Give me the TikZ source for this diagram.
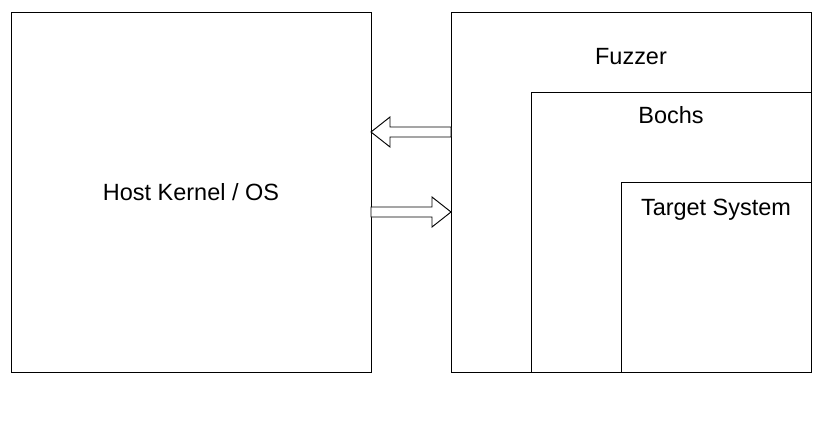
\documentclass[tikz,border=0pt]{standalone}
\usepackage{fontspec}
\setmainfont{Liberation Sans}
\usetikzlibrary{calc,positioning}

\tikzset{
	box/.style={draw, line width=0.7pt, inner sep=0pt, outer sep=0pt, minimum width=#1, minimum height=#1},
	lbl/.style={anchor=base, inner sep=0pt, font=\fontsize{17.6pt}{20pt}\selectfont},
	hollow/.style={draw, line width=0.7pt, fill=white, line join=miter}
}

\begin{document}
\begin{tikzpicture}[x=0.75pt, y=-0.75pt]
		%%%%% START %%%%%
		\useasboundingbox (0, 0) rectangle (822, 428);
		
		\node[box=270pt, anchor=north west] (host) at (11, 12) {};
		\node[box=270pt, right=60pt of host] (fuzzer) {};
		\node[box=210pt, anchor=north east] (bochs) at ($(fuzzer.north east)+(0, 80)$) {};
		\node[box=142.5pt, anchor=north east] (target) at ($(bochs.north east)+(0, 90)$) {};
		
		\node[lbl] (hostlbl) at ($(host.center)+(0, 8)$) {Host Kernel / OS};
		\node[lbl] (fuzzerlbl) at ($(fuzzer.north)+(0, 53)$) {Fuzzer};
		\node[lbl] (bochslbl) at ($(bochs.north)+(0, 32)$) {Bochs};
		\node[lbl] (targetlbl) at ($(target.north)+(0, 33)$) {Target System};
		
		% fuzzer -> host
		\coordinate (totip) at ($(host.north east)+(0, 120)$);
		\draw[hollow] (totip) -- ++(19, -15) -- ++(0, 10) -- ++(61, 0) -- ++(0, 10) -- ++(-61, 0) -- ++(0, 10) -- cycle;
		
		% host -> fuzzer
		\coordinate (fromtip) at ($(fuzzer.north west)+(0, 200)$);
		\draw[hollow] (fromtip) -- ++(-19, -15) -- ++(0, 10) -- ++(-61, 0) -- ++(0, 10) -- ++(61, 0) -- ++(0, 10) -- cycle;
		
		%%%%% END %%%%%
	\end{tikzpicture}
\end{document}
